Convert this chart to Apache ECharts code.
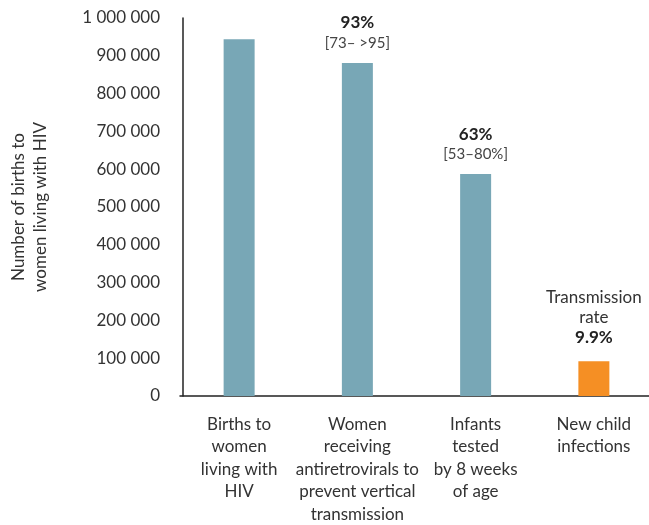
<!DOCTYPE html>
<html><head><meta charset="utf-8">
<script src="https://cdn.jsdelivr.net/npm/echarts@6/dist/echarts.min.js"></script>
<style>html,body{margin:0;padding:0;background:#fff}#c{width:649px;height:525px}</style>
</head><body><div id="c"></div>
<script>
const categories = ['Births to\nwomen\nliving with\nHIV', 'Women\nreceiving\nantiretrovirals to\nprevent vertical\ntransmission', 'Infants\ntested\nby 8 weeks\nof age', 'New child\ninfections'];
const values = [944000, 881000, 587000, 92000];
const barColors = ['#78A7B6', '#78A7B6', '#78A7B6', '#F58F24'];
const annotations = ['', '{b|93%}\n{n|[73– >95]}', '{b|63%}\n{n|[53–80%]}', '{t|Transmission}\n{t|rate}\n{b|9.9%}'];
const yTicks = {min: 0, max: 1000000, interval: 100000};
const yTitle = 'Number of births to\nwomen living with HIV';

const font = 'Lato, "Open Sans", sans-serif';
const chart = echarts.init(document.getElementById('c'), null, {renderer: 'canvas'});
chart.setOption({
  animation: false,
  textStyle: {fontFamily: font},
  grid: {left: 180, right: -4, top: 18, bottom: 129, containLabel: false, outerBoundsMode: 'none'},
  xAxis: {
    type: 'category', data: categories,
    axisTick: {show: false},
    axisLine: {lineStyle: {color: '#222', width: 1.5}},
    axisLabel: {interval: 0, margin: 17, fontSize: 17, lineHeight: 22.5, color: '#333', fontFamily: font}
  },
  yAxis: {
    type: 'value', min: yTicks.min, max: yTicks.max, interval: yTicks.interval,
    offset: -3,
    name: yTitle, nameLocation: 'middle', nameGap: 131, nameRotate: 90,
    nameTextStyle: {fontSize: 17, lineHeight: 22, color: '#333', fontFamily: font},
    axisLine: {show: true, lineStyle: {color: '#222', width: 1.5}},
    axisTick: {show: false},
    splitLine: {show: false},
    axisLabel: {margin: 23, fontSize: 17, color: '#333', fontFamily: font,
      formatter: v => String(v).replace(/\B(?=(\d{3})+(?!\d))/g, ' ')}
  },
  series: [{
    type: 'bar', barWidth: 31,
    data: values.map((v, i) => ({
      value: v,
      itemStyle: {color: barColors[i]},
      label: {show: !!annotations[i], position: 'top', distance: i === 3 ? 14 : 10,
        formatter: annotations[i],
        rich: {
          b: {fontSize: 17, fontWeight: 'bold', color: '#222', lineHeight: 20, fontFamily: font},
          n: {fontSize: 15, color: '#444', lineHeight: 20, fontFamily: font},
          t: {fontSize: 17, color: '#333', lineHeight: 20, fontFamily: font}
        }}
    }))
  }]
});
</script></body></html>
